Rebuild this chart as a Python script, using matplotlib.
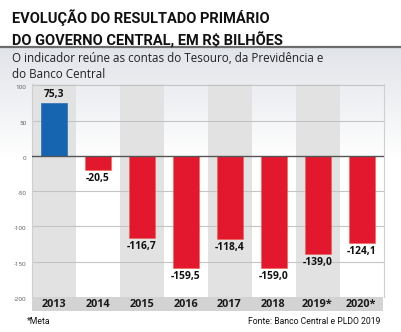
import numpy as np
import matplotlib
matplotlib.use("Agg")
import matplotlib.pyplot as plt

# dados do resultado primario (R$ bilhoes)
anos = ["2013", "2014", "2015", "2016", "2017", "2018", "2019*", "2020*"]
valores = [75.3, -20.5, -116.7, -159.5, -118.4, -159.0, -139.0, -124.1]
yticks = [100, 50, 0, -50, -100, -150, -200]

W, H = 401, 332
fig = plt.figure(figsize=(W / 100, H / 100), dpi=100)
fig.patch.set_facecolor("white")

def fx(px):
    return px / W

def fy(py):
    return 1 - py / H

# fundo em degrade atras do subtitulo e do grafico
bg = fig.add_axes([0, fy(160), 1, fy(48) - fy(160)], zorder=0)
grad = np.linspace(0, 1, 100).reshape(-1, 1)
top = np.array([0.885, 0.895, 0.915])
cols = top[None, None, :] * (1 - grad[:, :, None]) + np.ones(3)[None, None, :] * grad[:, :, None]
bg.imshow(cols, aspect="auto", extent=[0, 1, 0, 1], origin="upper")
bg.axis("off")

# linha sob o titulo
fig.add_artist(plt.Line2D([0, 1], [fy(47), fy(47)], color="#6d6d6d", lw=1.6))

fig.text(fx(12), fy(18), "EVOLUÇÃO DO RESULTADO PRIMÁRIO", fontsize=10.5,
         fontweight="bold", family="Roboto", color="#111111", va="center")
fig.text(fx(12), fy(40), "DO GOVERNO CENTRAL, EM R$ BILHÕES", fontsize=10.5,
         fontweight="bold", family="Roboto", color="#111111", va="center")
fig.text(fx(12), fy(58), "O indicador reúne as contas do Tesouro, da Previdência e",
         fontsize=8.4, family="Open Sans", color="#222222", va="center", zorder=5)
fig.text(fx(12), fy(75), "do Banco Central", fontsize=8.4, family="Open Sans",
         color="#222222", va="center", zorder=5)

ax = fig.add_axes([fx(32), fy(297), fx(384) - fx(32), fy(84) - fy(297)], zorder=2)
ax.patch.set_alpha(0)
x = np.arange(len(anos))
ax.set_xlim(-0.5, len(anos) - 0.5)
ax.set_ylim(-200, 102)

# faixas cinza alternadas
for i in range(0, len(anos), 2):
    ax.axvspan(i - 0.5, i + 0.5, color="#e2e2e2", zorder=0, lw=0)
# metade inferior branca nas colunas restantes
for i in range(1, len(anos), 2):
    ax.fill_between([i - 0.5, i + 0.5], -200, 0, color="white", zorder=0, lw=0)

for t in [100, 50, -50, -100, -150]:
    ax.axhline(t, color="#c4c4c4", lw=0.8, zorder=1)

cores = ["#1565b0" if v > 0 else "#e3182f" for v in valores]
ax.bar(x, valores, width=0.6, color=cores, edgecolor=["#1565b0" if v > 0 else "#f0604a" for v in valores],
       lw=0.4, zorder=3)
ax.axhline(0, color="#555555", lw=1.0, zorder=4)

for xi, v in zip(x, valores):
    txt = f"{v:.1f}".replace(".", ",")
    if v > 0:
        ax.text(xi, v + 4, txt, ha="center", va="bottom", fontsize=7.4, family="Open Sans",
                fontweight="bold", color="#111111", zorder=5)
    else:
        ax.text(xi, v - 4, txt, ha="center", va="top", fontsize=7.4, family="Open Sans",
                fontweight="bold", color="#111111", zorder=5)

ax.set_yticks(yticks)
ax.set_yticklabels([str(t) for t in yticks], fontsize=4.6, color="#666666", family="Roboto")
for lab in ax.get_yticklabels():
    lab.set_va("top")
ax.tick_params(axis="y", length=0, pad=4)
ax.set_xticks([])
for s in ["top", "bottom"]:
    ax.spines[s].set_visible(False)
ax.spines["left"].set_color("#cfcfcf")
ax.spines["right"].set_color("#cfcfcf")
ax.spines["left"].set_linewidth(0.8)
ax.spines["right"].set_linewidth(0.8)

# faixa dos anos
yr = fig.add_axes([fx(32), fy(311), fx(383) - fx(32), fy(297) - fy(311)], zorder=2)
yr.set_facecolor("#d3d3d3")
yr.set_xlim(-0.5, len(anos) - 0.5)
yr.set_ylim(0, 1)
for xi, a in zip(x, anos):
    yr.text(xi, 0.45, a, ha="center", va="center", fontsize=7.8, family="Open Sans",
            fontweight="bold", color="#1a1a1a")
yr.set_xticks([])
yr.set_yticks([])
for s in yr.spines.values():
    s.set_visible(False)

fig.text(fx(27), fy(322), "*Meta", fontsize=6.2, color="#111111", va="center", family="Roboto")
fig.text(fx(380), fy(322), "Fonte: Banco Central e PLDO 2019", fontsize=6.2, color="#111111",
         va="center", ha="right", family="Roboto")

fig.savefig("out.png", dpi=100)
